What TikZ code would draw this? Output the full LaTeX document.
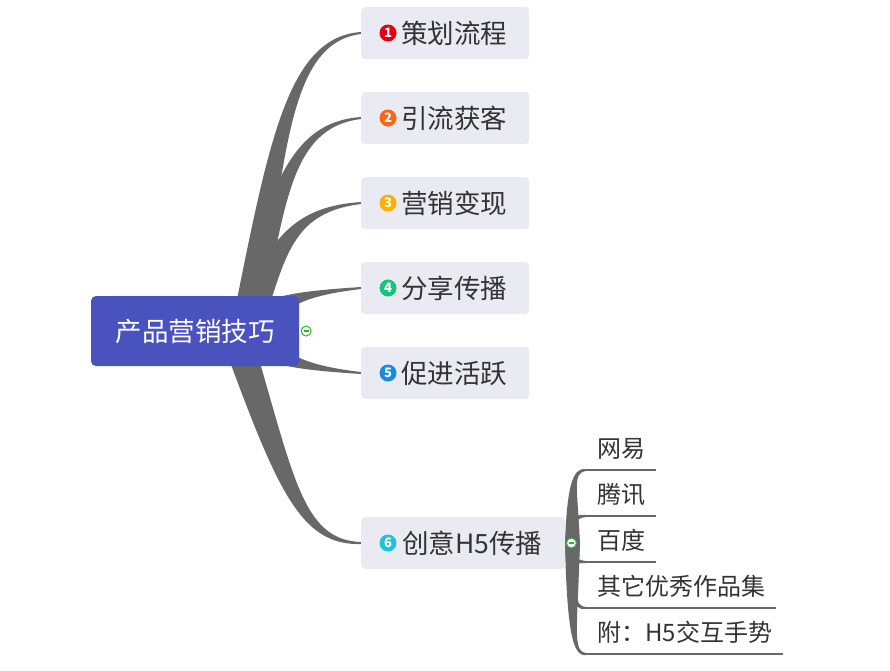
\documentclass[tikz,border=0pt]{standalone}
\usepackage{fontspec}
\setmainfont{Noto Sans CJK SC}
\usetikzlibrary{calc,backgrounds}

\definecolor{rootblue}{HTML}{4A52BE}
\definecolor{boxgrey}{HTML}{EAEAF2}
\definecolor{limb}{HTML}{686868}
\definecolor{ink}{HTML}{333333}
\definecolor{foldgreen}{HTML}{2DB52D}
\definecolor{tagA}{HTML}{E60012}
\definecolor{tagB}{HTML}{FF6414}
\definecolor{tagC}{HTML}{FFB000}
\definecolor{tagD}{HTML}{17C47C}
\definecolor{tagE}{HTML}{1A8AE0}
\definecolor{tagF}{HTML}{1EC3D8}

\tikzset{
  rootbox/.style={fill=rootblue, rounded corners=5pt, text=white,
    font=\fontsize{26.5}{26.5}\selectfont, minimum width=208pt, minimum height=70pt,
    text height=22.4pt, text depth=2.2pt, inner sep=0pt},
  topic/.style={fill=boxgrey, rounded corners=4pt, text=ink, anchor=west,
    font=\fontsize{26.5}{26.5}\selectfont, minimum height=52pt, minimum width=168pt,
    text height=22.4pt, text depth=2.2pt, inner xsep=20pt, inner ysep=0pt},
  tag/.style={circle, inner sep=0pt, minimum size=17pt, text=white,
    font=\fontsize{13}{13}\selectfont\bfseries},
  leaf/.style={text=ink, anchor=south west, font=\fontsize{24}{24}\selectfont,
    inner xsep=11pt, inner ysep=9.5pt, text height=20.4pt, text depth=2.4pt},
  rule/.style={draw=limb, line width=1.4pt},
  twigfill/.style={fill=limb},
  fold/.style={circle, draw=foldgreen, fill=white, line width=1pt,
    minimum size=10pt, inner sep=0pt,
    path picture={\draw[foldgreen, line width=1.3pt]
      ([xshift=-2.6pt]path picture bounding box.center) --
      ([xshift=2.6pt]path picture bounding box.center);}}
}

% tapered branch: from, to, start shift, first control (from start),
% second control (from end), half width at the start
\newcommand{\twig}[6]{%
  \fill[twigfill] ($(#1)+(#3)-(#6)$)
    .. controls ($(#1)+(#3)+(#4)-0.7*(#6)$) and ($(#2)+(#5)+(0,-3)$)
    .. ($(#2)+(0,-1)$) -- ($(#2)+(0,1)$)
    .. controls ($(#2)+(#5)+(0,3)$) and ($(#1)+(#3)+(#4)+0.7*(#6)$)
    .. ($(#1)+(#3)+(#6)$) -- cycle;}

\begin{document}
\begin{tikzpicture}[x=1pt, y=-1pt]
\useasboundingbox (0,0) rectangle (890,670);

\node[rootbox] (root) at (195,331) {产品营销技巧};

\node[topic] (b1) at (361,33) {\hspace*{18pt}策划流程};
\node[topic] (b2) at (361,118) {\hspace*{18pt}引流获客};
\node[topic] (b3) at (361,203) {\hspace*{18pt}营销变现};
\node[topic] (b4) at (361,288) {\hspace*{18pt}分享传播};
\node[topic] (b5) at (361,373) {\hspace*{18pt}促进活跃};
\node[topic, minimum width=204pt] (b6) at (361,543) {\hspace*{18pt}创意H5传播};

\node[tag, fill=tagA] (t1) at ([xshift=27pt]b1.west) {1};
\node[tag, fill=tagB] (t2) at ([xshift=27pt]b2.west) {2};
\node[tag, fill=tagC] (t3) at ([xshift=27pt]b3.west) {3};
\node[tag, fill=tagD] (t4) at ([xshift=27pt]b4.west) {4};
\node[tag, fill=tagE] (t5) at ([xshift=27pt]b5.west) {5};
\node[tag, fill=tagF] (t6) at ([xshift=27pt]b6.west) {6};

\node[leaf] (s1) at (586,470) {网易};
\node[leaf] (s2) at (586,516) {腾讯};
\node[leaf] (s3) at (586,562) {百度};
\node[leaf] (s4) at (586,608) {其它优秀作品集};
\node[leaf] (s5) at (586,654) {附：H5交互手势};

\draw[rule] (s1.south west) -- (s1.south east);
\draw[rule] (s2.south west) -- (s2.south east);
\draw[rule] (s3.south west) -- (s3.south east);
\draw[rule] (s4.south west) -- (s4.south east);
\draw[rule] (s5.south west) -- (s5.south east);

\begin{scope}[on background layer]
\twig{root.center}{b1.west}{50,0}{32,-179}{-74,7}{12,12}
\twig{root.center}{b2.west}{50,0}{32,-128}{-74,7}{12,12}
\twig{root.center}{b3.west}{50,0}{32,-77}{-74,7}{12,12}
\twig{root.center}{b4.west}{50,0}{30,-26}{-76,7}{12,12}
\twig{root.center}{b5.west}{50,0}{30,25}{-76,-7}{-12,12}
\twig{root.center}{b6.west}{40,0}{50,149}{-61,0}{-12,12}
\twig{b6.east}{s1.south west}{7,0}{0,-55}{-14,0}{7.5,0}
\twig{b6.east}{s2.south west}{7,0}{0,-20}{-14,0}{7.5,0}
\twig{b6.east}{s3.south west}{7,0}{0,14}{-14,0}{-7.5,0}
\twig{b6.east}{s4.south west}{7,0}{0,50}{-14,0}{-7.5,0}
\twig{b6.east}{s5.south west}{7,0}{0,85}{-14,0}{-7.5,0}
\end{scope}

\node[fold] (f0) at ([xshift=7pt]root.east) {};
\node[fold] (f6) at ([xshift=6pt]b6.east) {};

\end{tikzpicture}
\end{document}
